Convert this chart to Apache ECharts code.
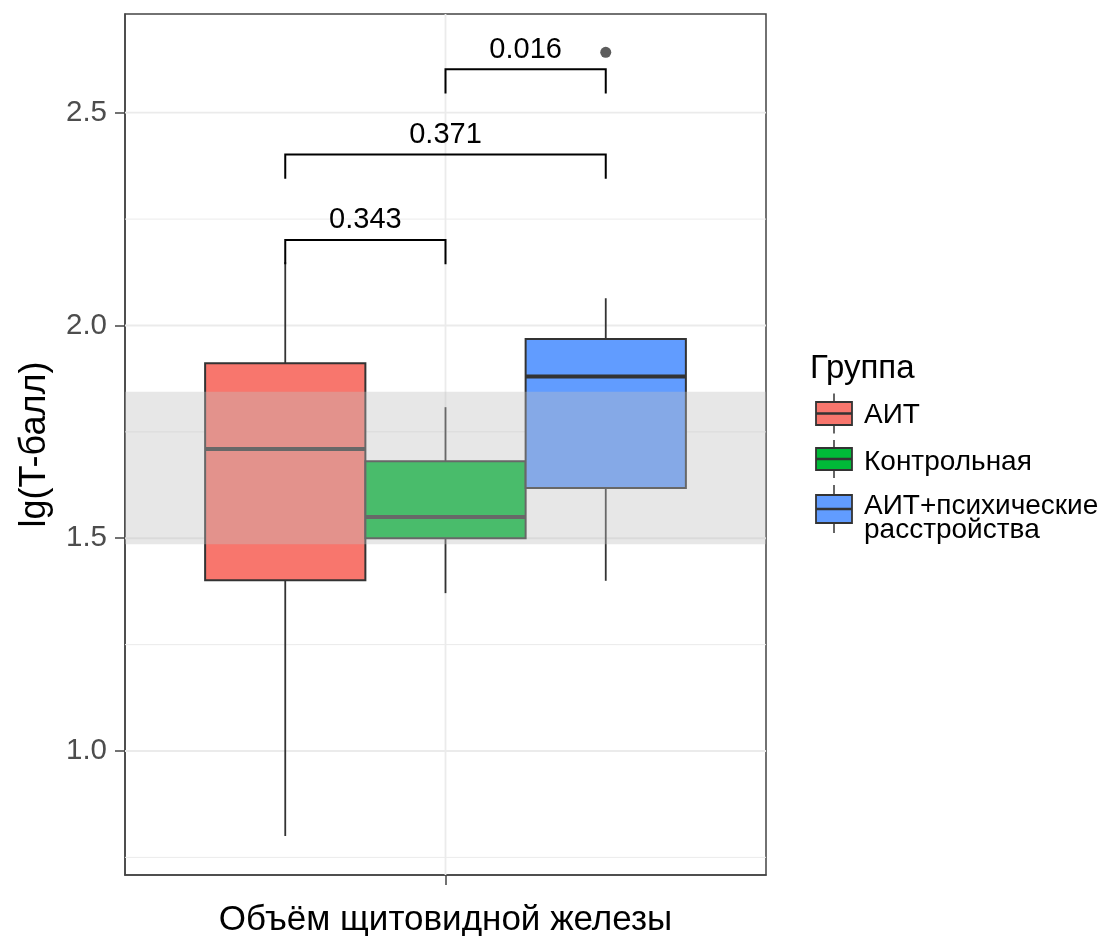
<!DOCTYPE html>
<html>
<head>
<meta charset="utf-8">
<script src="https://cdn.jsdelivr.net/npm/echarts@6/dist/echarts.min.js"></script>
<style>
  html, body { margin: 0; padding: 0; background: #ffffff; }
  #chart { width: 1117px; height: 936px; }
</style>
</head>
<body>
<div id="chart"></div>
<script>
// Groups and their fill colours
const groups = ['АИТ', 'Контрольная', 'АИТ+психические\nрасстройства'];
const groupColors = ['#F8766D', '#00BA38', '#619CFF'];
// Dodged positions of the three boxes around the single category
const groupX = [0.7, 1.0, 1.3];

// Box statistics, lg(T-балл)
const whiskerLow  = [0.800, 1.371, 1.400];
const q1          = [1.401, 1.500, 1.618];
const median      = [1.710, 1.550, 1.880];
const q3          = [1.911, 1.681, 1.968];
const whiskerHigh = [2.149, 1.808, 2.064];
const outliers    = [[1.3, 2.642]];

// Reference band
const refBand = [1.486, 1.844];

// Pairwise comparisons
const bracketFrom   = [0.7, 0.7, 1.0];
const bracketTo     = [1.0, 1.3, 1.3];
const bracketY      = [2.201, 2.402, 2.602];
const bracketLabels = ['0.343', '0.371', '0.016'];

// Axis ticks
const yTicks = [1.0, 1.5, 2.0, 2.5];
const yMinorTicks = [0.75, 1.25, 1.75, 2.25];
const xCategory = ['Объём щитовидной железы'];

const FONT = "'Liberation Sans', Arial, sans-serif";
const X_MIN = 0.4, X_MAX = 1.6;
const Y_MIN = 0.7086, Y_MAX = 2.732;
const BOX_W = 0.3;
const TIP = 0.057;

const chart = echarts.init(document.getElementById('chart'), null, { renderer: 'canvas' });

// grid lines: [value, orientation(0 = horizontal, 1 = vertical), major(1)/minor(0)]
const gridData = []
  .concat(yMinorTicks.map(v => [v, 0, 0]))
  .concat(yTicks.map(v => [v, 0, 1]))
  .concat([[1.0, 1, 1]]);

const boxData = groups.map((g, i) => [groupX[i], whiskerLow[i], q1[i], median[i], q3[i], whiskerHigh[i]]);
const bracketData = bracketLabels.map((l, i) => [bracketFrom[i], bracketTo[i], bracketY[i]]);

// Legend drawn as graphic elements
const keyCenter = [413.5, 459, 509];
const keyHalf = [20, 19, 24];
const boxHalf = [11.5, 11, 14];
const labelCenter = [415, 462, 518];
const legendChildren = [{
  type: 'text', x: 810, y: 369,
  style: { text: 'Группа', font: '33px ' + FONT, fill: '#000', textVerticalAlign: 'middle' }
}];
groups.forEach((g, i) => {
  const cy = keyCenter[i];
  legendChildren.push(
    { type: 'line', shape: { x1: 834, y1: cy - keyHalf[i], x2: 834, y2: cy + keyHalf[i] },
      style: { stroke: '#333', lineWidth: 1.5 } },
    { type: 'rect', shape: { x: 816, y: cy - boxHalf[i], width: 36, height: boxHalf[i] * 2 },
      style: { fill: groupColors[i], stroke: '#333', lineWidth: 1.8 } },
    { type: 'line', shape: { x1: 816, y1: cy, x2: 852, y2: cy },
      style: { stroke: '#333', lineWidth: 2.5 } },
    { type: 'text', x: 864, y: labelCenter[i],
      style: { text: g, font: '28px ' + FONT, fill: '#000', textVerticalAlign: 'middle', lineHeight: 24 } }
  );
});

const option = {
  backgroundColor: '#ffffff',
  animation: false,
  grid: {
    left: 125, top: 14, width: 641, height: 861,
    outerBoundsMode: 'none', containLabel: false,
    show: true, borderColor: '#444', borderWidth: 1.5, backgroundColor: '#ffffff'
  },
  xAxis: [
    { type: 'value', min: X_MIN, max: X_MAX, show: false },
    {
      type: 'category', data: xCategory, position: 'bottom', boundaryGap: true,
      axisLine: { show: true, lineStyle: { color: '#444', width: 1.5 } },
      axisTick: { show: true, alignWithLabel: true, length: 10, lineStyle: { color: '#444', width: 1.5 } },
      axisLabel: { fontSize: 35, color: '#000', fontFamily: FONT, margin: 28 },
      splitLine: { show: false }
    }
  ],
  yAxis: {
    type: 'value', min: Y_MIN, max: Y_MAX,
    axisLine: { show: true, lineStyle: { color: '#444', width: 1.5 } },
    axisTick: { show: true, length: 10, customValues: yTicks, lineStyle: { color: '#444', width: 1.5 } },
    axisLabel: {
      customValues: yTicks, fontSize: 29.5, color: '#4d4d4d', fontFamily: FONT, margin: 18,
      formatter: v => Number(v).toFixed(1)
    },
    splitLine: { show: false },
    name: 'lg(T-балл)', nameLocation: 'middle', nameGap: 72, nameRotate: 90,
    nameTextStyle: { fontSize: 36, color: '#000', fontFamily: FONT }
  },
  graphic: [{ type: 'group', children: legendChildren }],
  series: [
    {
      // panel grid lines
      type: 'custom', xAxisIndex: 0, yAxisIndex: 0, z: 1, silent: true,
      data: gridData,
      renderItem: (params, api) => {
        const v = api.value(0), vertical = api.value(1) === 1, major = api.value(2) === 1;
        const a = vertical ? api.coord([v, Y_MIN]) : api.coord([X_MIN, v]);
        const b = vertical ? api.coord([v, Y_MAX]) : api.coord([X_MAX, v]);
        return {
          type: 'line', shape: { x1: a[0], y1: a[1], x2: b[0], y2: b[1] },
          style: { stroke: '#ebebeb', lineWidth: major ? 1.8 : 1.0 }
        };
      }
    },
    {
      // boxes with whiskers
      type: 'custom', xAxisIndex: 0, yAxisIndex: 0, z: 2, silent: true,
      data: boxData,
      renderItem: (params, api) => {
        const x = api.value(0);
        const wl = api.coord([x, api.value(1)]);
        const lo = api.coord([x - BOX_W / 2, api.value(2)]);
        const md = api.value(3);
        const hi = api.coord([x + BOX_W / 2, api.value(4)]);
        const wh = api.coord([x, api.value(5)]);
        const ml = api.coord([x - BOX_W / 2, md]);
        const mr = api.coord([x + BOX_W / 2, md]);
        const c = groupColors[params.dataIndex];
        return {
          type: 'group',
          children: [
            { type: 'line', shape: { x1: wl[0], y1: wl[1], x2: wl[0], y2: lo[1] },
              style: { stroke: '#333', lineWidth: 1.8 } },
            { type: 'line', shape: { x1: wh[0], y1: wh[1], x2: wh[0], y2: hi[1] },
              style: { stroke: '#333', lineWidth: 1.8 } },
            { type: 'rect', shape: { x: lo[0], y: hi[1], width: hi[0] - lo[0], height: lo[1] - hi[1] },
              style: { fill: c, stroke: '#333', lineWidth: 2 } },
            { type: 'line', shape: { x1: ml[0], y1: ml[1], x2: mr[0], y2: mr[1] },
              style: { stroke: '#333', lineWidth: 4 } }
          ]
        };
      }
    },
    {
      // shaded reference band
      type: 'custom', xAxisIndex: 0, yAxisIndex: 0, z: 3, silent: true,
      data: [refBand],
      renderItem: (params, api) => {
        const a = api.coord([X_MIN, api.value(1)]);
        const b = api.coord([X_MAX, api.value(0)]);
        return {
          type: 'rect', shape: { x: a[0], y: a[1], width: b[0] - a[0], height: b[1] - a[1] },
          style: { fill: 'rgba(192,192,192,0.38)' }
        };
      }
    },
    {
      type: 'scatter', xAxisIndex: 0, yAxisIndex: 0, z: 4, silent: true,
      data: outliers, symbol: 'circle', symbolSize: 11,
      itemStyle: { color: '#333' }
    },
    {
      // significance brackets
      type: 'custom', xAxisIndex: 0, yAxisIndex: 0, z: 5, silent: true,
      data: bracketData,
      renderItem: (params, api) => {
        const x1 = api.value(0), x2 = api.value(1), y = api.value(2);
        const p1 = api.coord([x1, y - TIP]), p2 = api.coord([x1, y]);
        const p3 = api.coord([x2, y]), p4 = api.coord([x2, y - TIP]);
        return {
          type: 'group',
          children: [
            { type: 'polyline', shape: { points: [p1, p2, p3, p4] },
              style: { stroke: '#000', lineWidth: 2, fill: null } },
            { type: 'text', x: (p2[0] + p3[0]) / 2, y: p2[1] - 5,
              style: { text: bracketLabels[params.dataIndex], font: '29px ' + FONT, fill: '#000',
                       textAlign: 'center', textVerticalAlign: 'bottom' } }
          ]
        };
      }
    }
  ]
};

chart.setOption(option);
</script>
</body>
</html>
